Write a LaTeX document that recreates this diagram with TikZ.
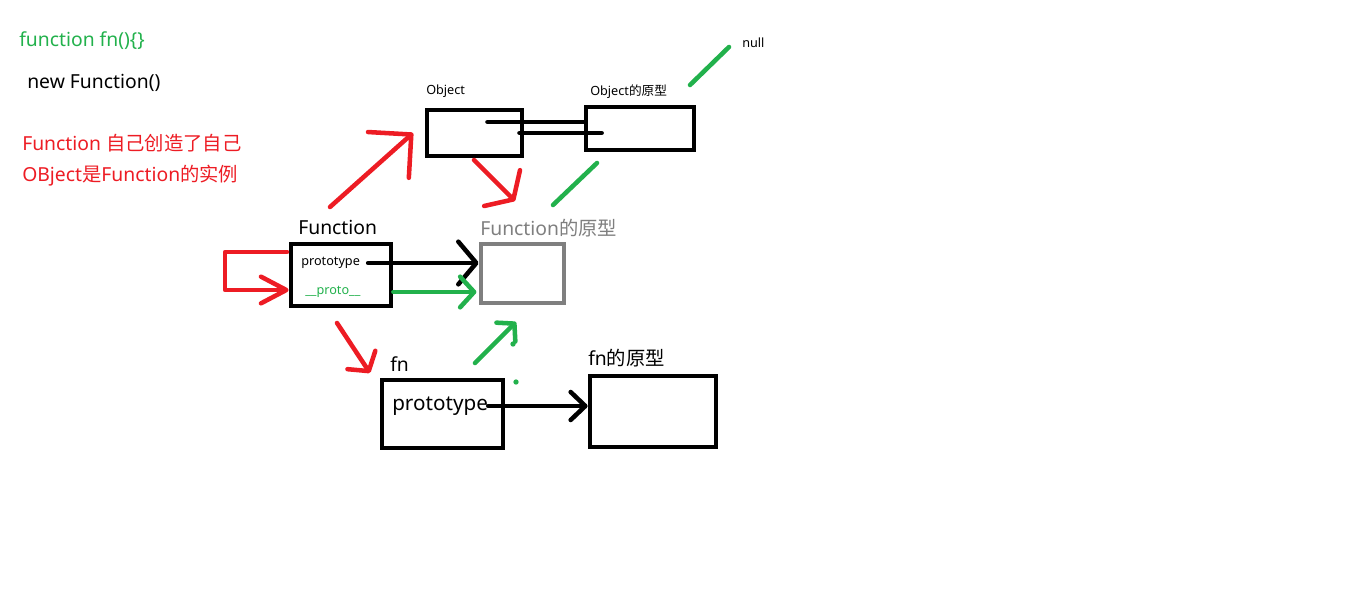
\documentclass[tikz,border=0pt]{standalone}
\usepackage{fontspec}
\setmainfont{Noto Sans}
\newfontfamily\cjk{Noto Sans CJK SC}
\usetikzlibrary{arrows.meta,calc}
\definecolor{PaintRed}{RGB}{237,28,36}
\definecolor{PaintGreen}{RGB}{34,177,76}
\definecolor{PaintGray}{RGB}{127,127,127}

\begin{document}
\begin{tikzpicture}[x=0.75pt,y=-0.75pt,
  objbox/.style={draw,line width=3.6pt,inner sep=0pt},
  txt/.style={anchor=west,inner sep=0pt,font=\fontsize{14.5}{16}\selectfont},
  small/.style={anchor=west,inner sep=0pt,font=\fontsize{9.5}{11}\selectfont},
  hand/.style={line width=3.4pt,line cap=round,line join=round},
  barb/.style 2 args={hand,-{Straight Barb[length=#1,width=#2,round]}}]
\useasboundingbox (0,0) rectangle (1360,600);

% notes top left
\node[txt,PaintGreen] (decl) at (19,41) {function fn()\{\}};
\node[txt] (newf) at (27,83) {new Function()};
\node[txt,PaintRed] (note1) at (22,143) {Function {\cjk 自己创造了自己}};
\node[txt,PaintRed] (note2) at (22,176) {OBject{\cjk 是}Function{\cjk 的实例}};

% boxes
\node[objbox,minimum width=71.25pt,minimum height=34.5pt] (obj) at (474.5,133) {};
\node[objbox,minimum width=81pt,minimum height=32.25pt] (objproto) at (640,128.5) {};
\node[objbox,minimum width=75pt,minimum height=46.5pt] (func) at (341,275) {};
\node[objbox,draw=PaintGray,minimum width=62.25pt,minimum height=44.25pt] (funcproto) at (522.5,273.5) {};
\node[objbox,minimum width=90.75pt,minimum height=51pt] (fn) at (442.5,414) {};
\node[objbox,minimum width=94.5pt,minimum height=53.25pt] (fnproto) at (653,411.5) {};

% labels
\node[small] (objlabel) at (426,91) {Object};
\node[small] (objprotolabel) at (590,92) {Object{\cjk 的原型}};
\node[small] (nulllabel) at (742,43) {null};
\node[txt] (funclabel) at (298,227) {Function};
\node[txt,PaintGray] (funcprotolabel) at (480,228) {Function{\cjk 的原型}};
\node[txt] (fnlabel) at (390,364) {fn};
\node[txt] (fnprotolabel) at (588,358) {fn{\cjk 的原型}};
\node[small] (funcpt) at (301,263) {prototype};
\node[small,PaintGreen] (funcpp) at (305,292) {\_\_proto\_\_};
\node[txt,font=\fontsize{15.5}{17}\selectfont] (fnpt) at (392,406) {prototype};

% free ends
\coordinate (nullend) at (729,47);
\coordinate (objtop) at (690,85);
\coordinate (fpup) at (553,205);
\coordinate (opdown) at (597,163);
\coordinate (objleft) at (413,133);
\coordinate (functop) at (330,207);
\coordinate (objbot) at (474,160);
\coordinate (fpin) at (515,201);
\coordinate (funcbot) at (337,323);
\coordinate (fntop) at (370,373);
\coordinate (fnright) at (475,363);
\coordinate (fpbot) at (516,322);
\coordinate (loopa) at (287,252);
\coordinate (loopb) at (225,252);
\coordinate (loopc) at (225,290);
\coordinate (linkA) at ($(obj.center)+(13,-11)$);
\coordinate (linkB) at ($(obj.center)+(45,0)$);
\coordinate (linkC) at ($(objproto.west)+(18,4.5)$);

% Object <-> Object prototype
\draw[hand] (linkA) -- (linkA -| objproto.west);
\draw[hand] (linkB) -- (linkC);

% green links
\draw[hand,PaintGreen] (objtop) -- (nullend);
\draw[hand,PaintGreen] (fpup) -- (opdown);
\draw[barb={9pt}{20pt},PaintGreen] (fnright) -- (fpbot);
\fill[PaintGreen] (513,344) circle (2pt) (516,382) circle (2pt);

% prototype / __proto__
\draw[barb={13.5pt}{32pt}] (funcpt.east) ++(8,0) -- (funcpt.east -| funcproto.west);
\draw[barb={10.5pt}{23pt},PaintGreen] (func.east |- funcpp) -- ($(func.east |- funcpp)+(83,0)$);
\draw[barb={11pt}{21pt}] (fnpt.east) -- (fnpt.east -| fnproto.west);

% red creation arrows
\draw[barb={23pt}{46pt},PaintRed] (functop) -- (objleft);
\draw[barb={12pt}{38pt},PaintRed] (objbot) -- (fpin);
\draw[barb={10pt}{25pt},PaintRed] (funcbot) -- (fntop);
\draw[barb={19pt}{20pt},PaintRed] (loopa) -- (loopb) -- (loopc) -- (loopc -| func.west);
\end{tikzpicture}
\end{document}
